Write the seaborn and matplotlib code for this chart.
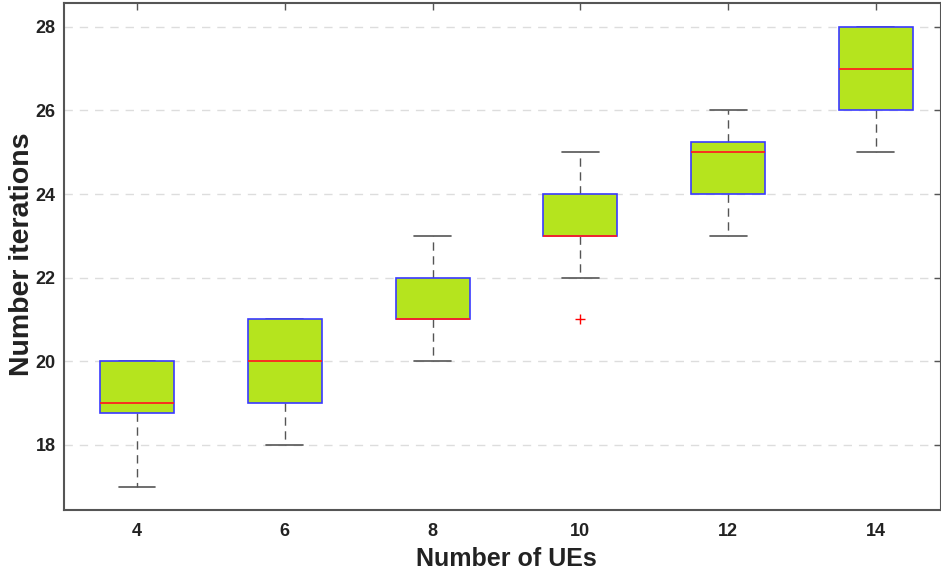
import numpy as np
import pandas as pd
import seaborn as sns
import matplotlib.pyplot as plt

# Datos (iteraciones por número de UEs)
ues_labels = ["4", "6", "8", "10", "12", "14"]
iter_4 = [17, 18, 19, 19, 19, 20, 20, 20]
iter_6 = [18, 19, 20, 21, 21]
iter_8 = [20, 21, 21, 22, 23]
iter_10 = [21, 22, 23, 23, 23, 24, 24, 25, 25]
iter_12 = [23, 24, 24, 25, 25, 25, 26, 26]
iter_14 = [25, 26, 27, 28, 28]

series = [iter_4, iter_6, iter_8, iter_10, iter_12, iter_14]

# Tabla larga para seaborn
df = pd.DataFrame({
    "ues": [lab for lab, vals in zip(ues_labels, series) for _ in vals],
    "iters": [v for vals in series for v in vals],
})

sns.set_style("white")
plt.rcParams["font.family"] = ["Liberation Sans", "DejaVu Sans"]

fig = plt.figure(figsize=(9.41, 5.79), dpi=100)
ax = fig.add_axes([64 / 941, 69 / 579, 1 - 64 / 941, 507 / 579])

sns.boxplot(
    data=df, x="ues", y="iters", order=ues_labels, ax=ax,
    width=0.5, color="#b5e41e", saturation=1, linecolor="#555555", linewidth=1,
    boxprops={"edgecolor": "#3a3aff", "linewidth": 1.2, "zorder": 3.5},
    medianprops={"color": "#ff2020", "linewidth": 1.3, "zorder": 4},
    whiskerprops={"color": "#555555", "linestyle": (0, (6, 4)), "linewidth": 1},
    capprops={"color": "#555555", "linewidth": 1.2},
    flierprops={"marker": "+", "markeredgecolor": "red", "markersize": 7, "markeredgewidth": 1},
    zorder=3,
)

# Rejilla horizontal discontinua
ax.yaxis.grid(True, color="#dddddd", linestyle=(0, (6, 5)), linewidth=1)
ax.set_axisbelow(True)

ax.set_ylim(16.44, 28.57)
ax.set_xlim(-0.494, 5.44)
ax.set_yticks([18, 20, 22, 24, 26, 28])

for s in ax.spines.values():
    s.set_color("#555555")
    s.set_linewidth(1.5)

ax.tick_params(direction="in", top=True, right=True, length=5, width=1, color="#555555",
               labelsize=13)
ax.tick_params(axis="x", pad=9)
ax.tick_params(axis="y", pad=6)
for lab in ax.get_xticklabels() + ax.get_yticklabels():
    lab.set_fontweight("bold")
    lab.set_color("#222222")

ax.set_xlabel("Number of UEs", fontsize=18, fontweight="bold", color="#222222")
ax.set_ylabel("Number iterations", fontsize=20.5, fontweight="bold", color="#222222")
ax.xaxis.set_label_coords(0.504, -0.072)
ax.yaxis.set_label_coords(-0.033, 0.505)

plt.savefig("out.png", dpi=100)
plt.close()
